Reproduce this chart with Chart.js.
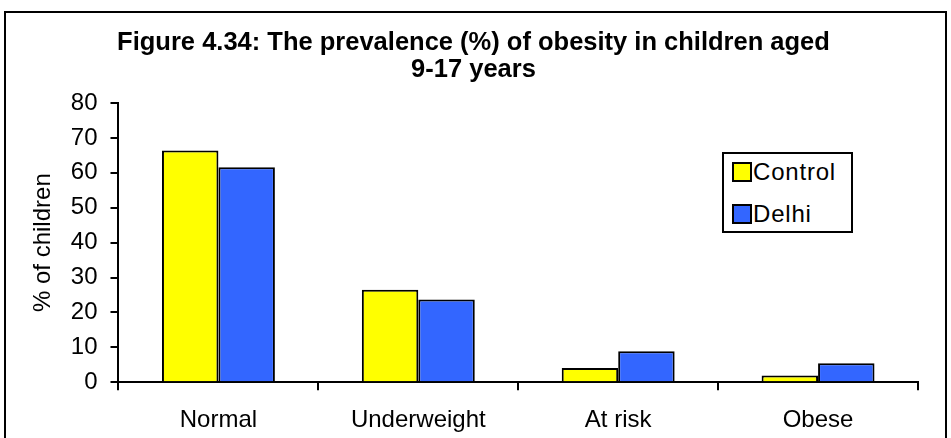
<!DOCTYPE html>
<html lang="en">
<head>
  <meta charset="UTF-8">
  <title>Prevalence of obesity</title>
  <script src="https://cdn.jsdelivr.net/npm/chart.js"></script>
  <style>
    * { margin: 0; padding: 0; box-sizing: border-box; }
    body { width: 951px; height: 438px; background: #fff; overflow: hidden; position: relative; font-family: 'Liberation Sans', Arial, sans-serif; }
    /* outer chart frame */
    .frame { position: absolute; left: 4px; top: 11px; width: 943px; height: 460px; border: 2px solid #000; }
    /* canvas runs a little past the bottom edge, like the cropped original */
    .chart-box { position: absolute; left: 0; top: 0; width: 951px; height: 451px; }
    /* legend box inside the plot area */
    .legend { position: absolute; left: 722px; top: 152px; width: 131px; height: 81px; border: 2px solid #000; background: #fff; padding: 7px 0 0 8px; }
    .legend div { display: flex; align-items: center; font-size: 24px; line-height: 24px; letter-spacing: 0.8px; }
    .legend div:first-child { height: 22px; margin-bottom: 20px; }
    .legend div:last-child { height: 22px; }
    .legend span { display: inline-block; width: 20px; height: 20px; border: 2px solid #000; margin-right: 1px; }
  </style>
</head>
<body>
  <div class="frame"></div>
  <div class="chart-box"><canvas id="obesityChart" width="951" height="451"></canvas></div>
  <div class="legend" id="legend"></div>

  <script>
    const categories = ['Normal', 'Underweight', 'At risk', 'Obese'];
    const controlValues = [66.4, 26.5, 4.1, 1.9];
    const delhiValues = [61.6, 23.7, 8.9, 5.4];
    const seriesNames = ['Control', 'Delhi'];
    const seriesColors = ['#FFFF00', '#3366FF'];

    const ctx = document.getElementById('obesityChart').getContext('2d');
    const chart = new Chart(ctx, {
      type: 'bar',
      data: {
        labels: categories,
        datasets: [
          { label: seriesNames[0], data: controlValues, backgroundColor: seriesColors[0], borderColor: '#000', borderWidth: 2, borderSkipped: 'bottom' },
          { label: seriesNames[1], data: delhiValues, backgroundColor: seriesColors[1], borderColor: '#000', borderWidth: 2, borderSkipped: 'bottom' },
        ],
      },
      options: {
        responsive: false,
        animation: false,
        categoryPercentage: 0.565,
        barPercentage: 1,
        layout: { padding: { left: 29, right: 33, top: 29, bottom: 0 } },
        plugins: {
          legend: { display: false },
          tooltip: { enabled: false },
          title: {
            display: true,
            text: ['Figure 4.34: The prevalence (%) of obesity in children aged', '9-17 years'],
            color: '#000',
            font: { family: 'Liberation Sans', size: 25.5, weight: 'bold', lineHeight: 1.08 },
            padding: { top: 0, bottom: 19 },
          },
        },
        scales: {
          x: {
            grid: { display: true, drawOnChartArea: false, color: '#000', lineWidth: 2, tickLength: 8, offset: true },
            border: { color: '#000', width: 2 },
            ticks: { color: '#000', font: { family: 'Liberation Sans', size: 24 }, padding: 16 },
          },
          y: {
            min: 0,
            max: 80,
            grid: { display: true, drawOnChartArea: false, color: '#000', lineWidth: 2, tickLength: 8 },
            border: { color: '#000', width: 2 },
            ticks: { stepSize: 10, color: '#000', font: { family: 'Liberation Sans', size: 24 }, padding: 13 },
            title: { display: true, text: '% of children', color: '#000', font: { family: 'Liberation Sans', size: 24 }, padding: { top: 0, bottom: 0 } },
          },
        },
      },
    });

    // legend built from the dataset names/colours
    const legendEl = document.getElementById('legend');
    seriesNames.forEach((name, i) => {
      const row = document.createElement('div');
      row.innerHTML = '<span style="background:' + seriesColors[i] + '"></span>' + name;
      legendEl.appendChild(row);
    });
  </script>
</body>
</html>
